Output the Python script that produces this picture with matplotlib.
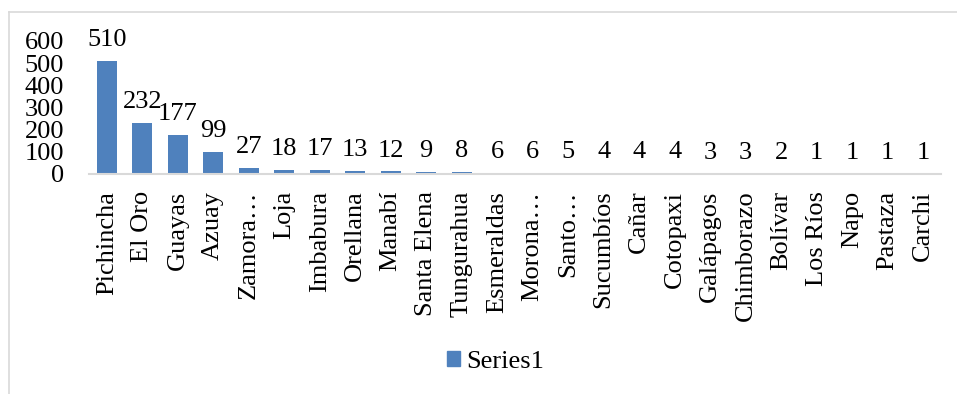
import matplotlib
matplotlib.use("Agg")
import matplotlib.pyplot as plt
from matplotlib.lines import Line2D
from matplotlib.patches import Patch

plt.rcParams['font.family'] = ['Liberation Serif', 'DejaVu Serif']

provinces = ["Pichincha", "El Oro", "Guayas", "Azuay", "Zamora…", "Loja",
             "Imbabura", "Orellana", "Manabí", "Santa Elena", "Tungurahua",
             "Esmeraldas", "Morona…", "Santo…", "Sucumbíos", "Cañar",
             "Cotopaxi", "Galápagos", "Chimborazo", "Bolívar", "Los Ríos",
             "Napo", "Pastaza", "Carchi"]
counts = [510, 232, 177, 99, 27, 18, 17, 13, 12, 9, 8, 6, 6, 5, 4, 4, 4,
          3, 3, 2, 1, 1, 1, 1]
yticks = [0, 100, 200, 300, 400, 500, 600]

bar_color = "#4f81bd"
fs = 19

fig = plt.figure(figsize=(9.57, 3.94), dpi=100)
ax = fig.add_axes([0.093, 0.5584, 0.890, 0.3376])

x = list(range(len(provinces)))
bars = ax.bar(x, counts, width=0.56, color=bar_color, label="Series1")
for xi, v in zip(x, counts):
    ax.annotate(str(v), (xi, v), xytext=(0, 7), textcoords="offset points",
                ha="center", va="bottom", fontsize=fs)

ax.set_xlim(-0.5, len(provinces) - 0.5)
ax.set_ylim(0, 600)
ax.set_yticks(yticks)
ax.set_yticklabels([str(t) for t in yticks], fontsize=fs)
ax.set_xticks(x)
ax.set_xticklabels(provinces, rotation=90, fontsize=fs)
ax.tick_params(axis="y", length=0, pad=18)
ax.tick_params(axis="x", length=0, pad=12)

for side in ["top", "right", "left"]:
    ax.spines[side].set_visible(False)
ax.spines["bottom"].set_color("#d9d9d9")
ax.spines["bottom"].set_linewidth(1.5)

fig.legend(handles=[Patch(color=bar_color, label="Series1")],
           loc="center", bbox_to_anchor=(0.518, 0.081), frameon=False,
           fontsize=fs, handlelength=0.5, handleheight=0.5,
           handletextpad=0.25)

# outer chart frame
fig.add_artist(Line2D([0.0094, 0.0094], [0, 0.97], transform=fig.transFigure,
                      color="#d9d9d9", lw=1.2))
fig.add_artist(Line2D([0.0094, 1.0], [0.97, 0.97], transform=fig.transFigure,
                      color="#d9d9d9", lw=1.2))

fig.savefig("out.png", dpi=100)
